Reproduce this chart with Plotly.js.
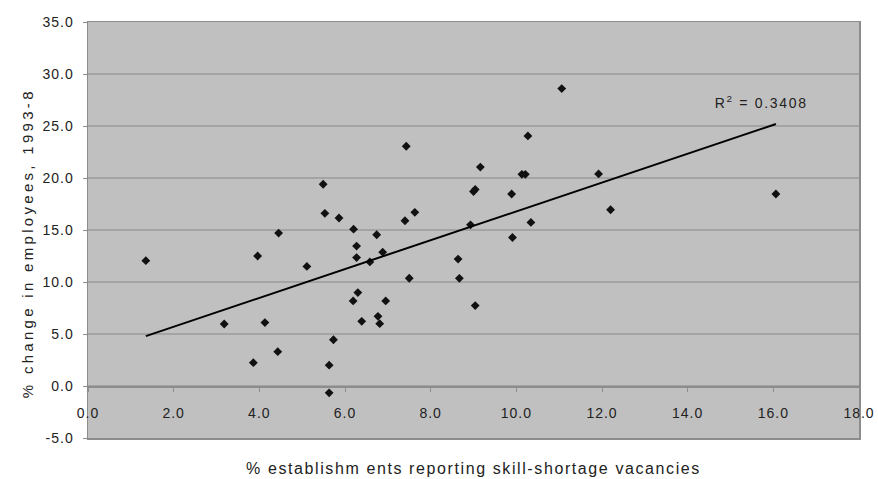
<!DOCTYPE html>
<html>
<head>
<meta charset="utf-8">
<script src="https://cdn.plot.ly/plotly-3.0.1.min.js"></script>
<style>
html, body { margin: 0; padding: 0; background: #ffffff; }
#chart { width: 878px; height: 479px; }
.ytick text { letter-spacing: 1px; }
.xtick text, .x2tick text { letter-spacing: 1px; }
.g-xtitle text { letter-spacing: 1.6px; }
.annotation[data-index="0"] .annotation-text { letter-spacing: 1.7px; }
.annotation[data-index="1"] .annotation-text { letter-spacing: 3.3px; }
</style>
</head>
<body>
<div id="chart"></div>
<script>
// % establishments reporting skill-shortage vacancies
const skillShortagePct = [
  1.35, 3.18, 3.86, 3.96, 4.13, 4.43, 4.45, 5.11, 5.49, 5.53,
  5.63, 5.63, 5.73, 5.86, 6.19, 6.20, 6.27, 6.27, 6.30, 6.39,
  6.58, 6.74, 6.77, 6.81, 6.88, 6.95, 7.40, 7.43, 7.50, 7.63,
  8.64, 8.67, 8.93, 9.00, 9.04, 9.04, 9.16, 9.89, 9.91, 10.13,
  10.21, 10.27, 10.34, 11.06, 11.92, 12.20, 16.06
];
// % change in employees, 1993-8
const employeeChangePct = [
  12.05, 5.96, 2.24, 12.5, 6.1, 3.3, 14.7, 11.5, 19.4, 16.6,
  2.0, -0.66, 4.45, 16.15, 8.18, 15.08, 13.45, 12.35, 8.98, 6.22,
  11.93, 14.54, 6.70, 5.99, 12.87, 8.18, 15.89, 23.05, 10.36, 16.7,
  12.2, 10.35, 15.5, 18.7, 18.9, 7.73, 21.05, 18.46, 14.28, 20.35,
  20.35, 24.05, 15.73, 28.6, 20.39, 16.95, 18.46
];
const xTickVals = [0, 2, 4, 6, 8, 10, 12, 14, 16, 18];
const yTickVals = [-5, 0, 5, 10, 15, 20, 25, 30, 35];
const xTickText = xTickVals.map(v => v.toFixed(1));
const yTickText = yTickVals.map(v => v.toFixed(1));
const xAxisTitle = '% establishm ents reporting skill-shortage vacancies';
const yAxisTitle = '% change in employees, 1993-8';
const r2Label = 'R<sup>2</sup> = 0.3408';
const r2LabelPos = [15.72, 27.3];

// Linear (OLS) trend line fitted to the data
const n = skillShortagePct.length;
const mx = skillShortagePct.reduce((a, b) => a + b, 0) / n;
const my = employeeChangePct.reduce((a, b) => a + b, 0) / n;
let sxy = 0, sxx = 0;
for (let i = 0; i < n; i++) {
  sxy += (skillShortagePct[i] - mx) * (employeeChangePct[i] - my);
  sxx += (skillShortagePct[i] - mx) ** 2;
}
const slope = sxy / sxx;
const intercept = my - slope * mx;
const trendX = [Math.min(...skillShortagePct), Math.max(...skillShortagePct)];
const trendY = trendX.map(x => intercept + slope * x);

const xRange = [xTickVals[0], xTickVals[xTickVals.length - 1]];
const yRange = [yTickVals[0], yTickVals[yTickVals.length - 1]];
const zeroPos = (0 - yRange[0]) / (yRange[1] - yRange[0]);

const font = 'Liberation Sans, Arial, Helvetica, sans-serif';
const axisGrey = '#8c8c8c';

const data = [
  {
    x: skillShortagePct, y: employeeChangePct, type: 'scatter', mode: 'markers',
    marker: { symbol: 'diamond', size: 6.8, color: '#111111' },
    showlegend: false, hoverinfo: 'x+y'
  },
  {
    x: trendX, y: trendY, type: 'scatter', mode: 'lines',
    line: { color: '#000000', width: 2 },
    showlegend: false, hoverinfo: 'skip'
  },
  {
    x: [], y: [], xaxis: 'x2', yaxis: 'y', type: 'scatter', mode: 'markers',
    showlegend: false, hoverinfo: 'skip'
  }
];

const layout = {
  width: 878, height: 479,
  margin: { l: 88, r: 19, t: 22, b: 41, pad: 0 },
  paper_bgcolor: '#ffffff',
  plot_bgcolor: '#c0c0c0',
  font: { family: font, color: '#222222', size: 14 },
  showlegend: false,
  xaxis: {
    range: xRange, showticklabels: false, ticks: '', showgrid: false, zeroline: false,
    showline: true, linecolor: axisGrey, linewidth: 1.5, mirror: true,
    title: { text: xAxisTitle, font: { family: font, size: 16, color: '#222222' }, standoff: 24 }
  },
  xaxis2: {
    overlaying: 'x', anchor: 'free', position: zeroPos, side: 'bottom',
    range: xRange, tickmode: 'array', tickvals: xTickVals, ticktext: xTickText,
    ticks: 'outside', ticklen: 4, tickwidth: 1, tickcolor: axisGrey,
    showline: true, linecolor: axisGrey, linewidth: 1.5,
    showgrid: false, zeroline: false, ticklabelstandoff: 10,
    tickfont: { family: font, size: 14, color: '#222222' }
  },
  yaxis: {
    range: yRange, tickmode: 'array', tickvals: yTickVals, ticktext: yTickText,
    ticks: 'outside', ticklen: 4, tickwidth: 1, tickcolor: axisGrey,
    showline: true, linecolor: axisGrey, linewidth: 1.5, mirror: true,
    showgrid: true, gridcolor: '#a4a4a4', gridwidth: 1.5, zeroline: false,
    ticklabelstandoff: 6,
    tickfont: { family: font, size: 14, color: '#222222' }
  },
  annotations: [
    {
      x: r2LabelPos[0], y: r2LabelPos[1], xref: 'x', yref: 'y', text: r2Label,
      showarrow: false, font: { family: font, size: 14, color: '#222222' },
      xanchor: 'center', yanchor: 'middle'
    },
    {
      x: -0.0785, y: 0.469, xref: 'paper', yref: 'paper', text: yAxisTitle,
      textangle: -90, showarrow: false,
      font: { family: font, size: 15, color: '#222222' },
      xanchor: 'center', yanchor: 'middle'
    }
  ]
};

Plotly.newPlot('chart', data, layout, { displayModeBar: false, staticPlot: true });
</script>
</body>
</html>
